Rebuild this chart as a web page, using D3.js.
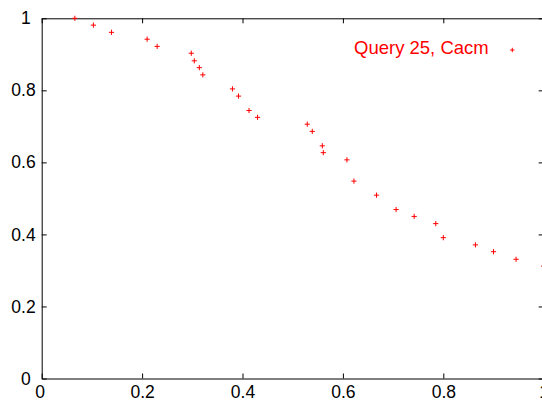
<!DOCTYPE html>
<html>
<head>
<meta charset="utf-8">
<script src="https://cdn.jsdelivr.net/npm/d3@7"></script>
<style>
  html, body { margin: 0; padding: 0; background: #fff; overflow: hidden; }
  svg { display: block; font-family: "Liberation Sans", Arial, sans-serif; }
</style>
</head>
<body>
<svg id="chart"></svg>
<script>
// recall / precision points
var recall = [0.066, 0.103, 0.139, 0.210, 0.230, 0.298, 0.304, 0.314, 0.321, 0.380,
              0.392, 0.413, 0.430, 0.529, 0.539, 0.559, 0.561, 0.608, 0.622, 0.667,
              0.706, 0.742, 0.785, 0.800, 0.864, 0.900, 0.945, 1.000];
var precision = [1.000, 0.981, 0.961, 0.942, 0.922, 0.903, 0.882, 0.863, 0.843, 0.804,
                 0.784, 0.744, 0.725, 0.706, 0.686, 0.646, 0.627, 0.607, 0.548, 0.509,
                 0.469, 0.450, 0.430, 0.391, 0.371, 0.352, 0.331, 0.312];
var xTicks = [0, 0.2, 0.4, 0.6, 0.8, 1];
var yTicks = [0, 0.2, 0.4, 0.6, 0.8, 1];
var legendLabel = 'Query 25, Cacm';

var width = 542,
    height = 400;
// plot box (right edge sits just past the window, as in the original)
var box = { left: 41.7, right: 543.7, top: 18.3, bottom: 378.5 };

var svg = d3.select('#chart')
  .attr('width', width)
  .attr('height', height);

var x = d3.scaleLinear().domain([0, 1]).range([box.left, box.right]);
var y = d3.scaleLinear().domain([0, 1]).range([box.bottom, box.top]);

function fmt(d) { return d === 0 || d === 1 ? String(d) : d.toFixed(1); }

// axes, ticks pointing inward like matlab
function styleAxis(g) {
  g.select('.domain').attr('stroke', '#000').attr('stroke-width', 1);
  g.selectAll('.tick line').attr('stroke', '#000').attr('stroke-width', 1);
  g.selectAll('.tick text').attr('fill', '#000').style('font-size', '17.5px');
}

var gx = svg.append('g')
  .attr('transform', 'translate(0,' + box.bottom + ')')
  .call(d3.axisBottom(x).tickValues(xTicks).tickFormat(fmt)
    .tickSizeInner(-5).tickSizeOuter(0).tickPadding(7))
  .call(styleAxis);
gx.selectAll('.tick text').filter(function(d) { return d === 0; }).attr('dx', -2);

var gy = svg.append('g')
  .attr('transform', 'translate(' + box.left + ',0)')
  .call(d3.axisLeft(y).tickValues(yTicks).tickFormat(fmt)
    .tickSizeInner(-5).tickSizeOuter(0).tickPadding(6))
  .call(styleAxis);
// the integer labels sit further left in the original
gy.selectAll('.tick text').filter(function(d) { return d === 0 || d === 1; }).attr('dx', -5);

svg.append('g')
  .attr('transform', 'translate(0,' + box.top + ')')
  .call(d3.axisTop(x).tickValues(xTicks).tickFormat('')
    .tickSizeInner(-5).tickSizeOuter(0))
  .call(styleAxis);

svg.append('g')
  .attr('transform', 'translate(' + box.right + ',0)')
  .call(d3.axisRight(y).tickValues(yTicks).tickFormat('')
    .tickSizeInner(-5).tickSizeOuter(0))
  .call(styleAxis);

// plus markers
var plus = 'M-2.6,0H2.6M0,-2.6V2.6';
var pts = d3.range(recall.length);

svg.append('g')
  .selectAll('path')
  .data(pts)
  .enter().append('path')
    .attr('d', plus)
    .attr('transform', function(i) { return 'translate(' + x(recall[i]) + ',' + y(precision[i]) + ')'; })
    .attr('stroke', '#ff0000')
    .attr('stroke-width', 1)
    .attr('fill', 'none');

// legend
var legend = svg.append('g');
legend.append('text')
  .attr('x', 354)
  .attr('y', 54)
  .attr('fill', '#ff0000')
  .style('font-size', '18.5px')
  .text(legendLabel);
legend.append('path')
  .attr('d', 'M-2.2,0H2.2M0,-2.2V2.2')
  .attr('transform', 'translate(512.3,50)')
  .attr('stroke', '#ff0000')
  .attr('stroke-width', 1);
</script>
</body>
</html>
